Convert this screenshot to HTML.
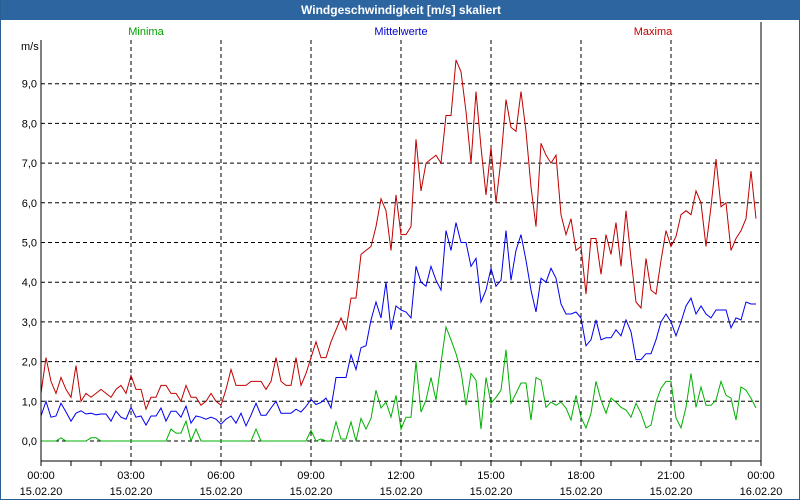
<!DOCTYPE html>
<html><head><meta charset="utf-8"><style>
body{margin:0;width:800px;height:500px;overflow:hidden;background:#fff;font-family:"Liberation Sans",sans-serif}
#wrap{position:relative;width:798px;height:499px;border-left:1px solid #2b5f94;border-right:1px solid #2b5f94;border-bottom:1px solid #2b5f94;box-sizing:border-box;width:800px;height:500px}
#title{position:absolute;left:0;top:0;width:800px;height:20px;background:#2c65a0;color:#fff;font-weight:bold;font-size:12px;text-align:center;line-height:20px}
svg{position:absolute;left:0;top:0}
text{font-family:"Liberation Sans",sans-serif;font-size:11px}
</style></head><body>
<div id="wrap">
<div id="title">Windgeschwindigkeit [m/s] skaliert</div>
<svg id="c" width="800" height="500"></svg>
</div>
<script>
const yTicks=[0,1,2,3,4,5,6,7,8,9];
const yTickLabels=["0,0","1,0","2,0","3,0","4,0","5,0","6,0","7,0","8,0","9,0"];
const xTickHours=[0,3,6,9,12,15,18,21,24];
const xTickTimes=["00:00","03:00","06:00","09:00","12:00","15:00","18:00","21:00","00:00"];
const xTickDates=["15.02.20","15.02.20","15.02.20","15.02.20","15.02.20","15.02.20","15.02.20","15.02.20","16.02.20"];
const maxima=[1.2,2.1,1.5,1.2,1.6,1.3,1.1,1.9,1.0,1.2,
1.1,1.2,1.3,1.2,1.1,1.3,1.4,1.2,1.65,1.3,
1.3,0.8,1.1,1.1,1.4,1.4,1.2,1.2,1.0,1.4,
1.1,1.1,0.9,1.0,1.2,1.0,0.9,1.3,1.8,1.4,
1.4,1.4,1.5,1.5,1.5,1.3,1.5,2.1,1.5,1.4,
1.4,2.1,1.4,1.7,2.1,2.5,2.1,2.1,2.5,2.8,
3.1,2.8,3.6,3.6,4.7,4.8,4.9,5.4,6.1,5.8,
4.8,6.2,5.2,5.2,5.4,7.6,6.3,7.0,7.1,7.2,
7.0,8.2,8.2,9.6,9.3,8.3,7.0,8.8,7.4,6.2,
7.4,6.0,7.1,8.6,7.9,7.8,8.8,7.8,6.4,5.4,
7.5,7.2,7.0,7.2,5.7,5.2,5.6,4.8,4.9,3.7,
5.1,5.1,4.2,5.2,4.7,5.5,4.4,5.8,4.6,3.5,
3.35,4.6,3.8,3.7,4.55,5.3,4.9,5.15,5.7,5.8,
5.7,6.3,6.0,4.9,5.9,7.1,5.9,6.0,4.8,5.1,
5.3,5.6,6.8,5.6];
const mittel=[0.63,1.0,0.6,0.63,0.95,0.73,0.5,0.7,0.76,0.68,
0.7,0.66,0.68,0.68,0.5,0.75,0.6,0.55,0.85,0.6,
0.63,0.4,0.63,0.63,0.83,0.5,0.75,0.75,0.6,0.88,
0.45,0.63,0.6,0.55,0.6,0.55,0.42,0.55,0.63,0.45,
0.7,0.38,0.65,0.95,0.65,0.65,0.83,1.0,0.7,0.7,
0.7,0.8,0.73,0.87,1.05,0.92,0.97,1.08,0.83,1.6,
1.6,1.6,2.17,1.8,2.35,2.4,3.05,3.5,3.1,4.0,
2.8,3.4,3.3,3.25,3.1,4.4,4.0,3.9,4.4,4.05,
3.8,5.3,4.8,5.5,5.0,5.0,4.4,4.6,3.5,3.8,
4.35,3.9,4.05,5.3,4.05,4.8,5.2,4.55,3.8,3.25,
4.1,4.0,4.35,4.1,3.45,3.2,3.2,3.25,3.1,2.4,
2.55,3.05,2.55,2.6,2.6,2.8,2.65,3.05,2.75,2.05,
2.05,2.2,2.2,2.55,3.0,3.2,3.0,2.65,3.0,3.4,
3.6,3.2,3.4,3.2,3.1,3.3,3.3,3.3,2.85,3.1,
3.05,3.5,3.45,3.45];
const minima=[0,0,0,0,0.08,0,0,0,0,0,
0.08,0.08,0,0,0,0,0,0,0,0,
0,0,0,0,0,0,0.3,0.2,0.2,0.5,
0,0.3,0,0,0,0,0,0,0,0,
0,0,0,0.3,0,0,0,0,0,0,
0,0,0,0,0.27,0,0.05,0,0,0.48,
0.05,0.05,0.48,0,0.57,0.3,0.57,1.28,0.83,0.98,
0.6,1.15,0.3,0.6,0.6,2.0,0.73,1.03,1.6,1.03,
1.97,2.87,2.55,2.2,1.75,0.9,1.7,1.53,0.3,1.6,
0.95,1.1,1.28,2.3,0.95,1.2,1.46,1.46,0.53,1.6,
1.53,0.85,0.98,0.9,0.98,0.83,0.53,1.15,0.6,0.33,
0.7,1.5,1.03,0.7,1.08,0.98,0.85,0.78,0.6,0.95,
0.7,0.33,0.4,0.98,1.33,1.5,1.5,0.58,0.33,0.85,
1.7,0.85,1.36,0.9,0.9,1.03,1.5,1.15,1.08,0.53,
1.36,1.28,1.08,0.83];
const STEP_MIN=10;
const X0=40,X1=760,Y0=441,PX_PER=39.7,TOP=40,BOT=461;
const xH=h=>X0+(X1-X0)*h/24;
const xI=i=>xH(i*STEP_MIN/60);
const yV=v=>Y0-v*PX_PER;
const svg=document.getElementById('c');
const NS='http://www.w3.org/2000/svg';
function mk(tag,attrs){const e=document.createElementNS(NS,tag);for(const k in attrs)e.setAttribute(k,attrs[k]);svg.appendChild(e);return e;}
// plot background
let bg=mk('rect',{x:X0,y:TOP,width:X1-X0,height:BOT-TOP,fill:'#fff'});


yTicks.forEach((v,i)=>{
  const g=mk('line',{x1:X0,x2:X1,y1:yV(v),y2:yV(v),stroke:'#000','stroke-dasharray':'4,3','stroke-width':1});
  
  
  const t=mk('text',{x:36,y:yV(v)+4,'text-anchor':'end',fill:'#000'});
  t.textContent=yTickLabels[i];
  
  
});
for(let h=0;h<=24;h++){
  const tk=mk('line',{x1:xH(h),x2:xH(h),y1:BOT,y2:BOT+5,stroke:'#000'});
  
  
}
xTickHours.forEach((h,i)=>{
  if(h>0&&h<24){
    const g=mk('line',{x1:xH(h),x2:xH(h),y1:TOP,y2:BOT,stroke:'#000','stroke-dasharray':'4,3'});
    
    
  }
  const t1=mk('text',{x:xH(h),y:479,'text-anchor':'middle',fill:'#000'});
  t1.textContent=xTickTimes[i];
  
  
  const t2=mk('text',{x:xH(h),y:495,'text-anchor':'middle',fill:'#000'});
  t2.textContent=xTickDates[i];
  
  
});
function series(arr,color,name){
  const p=mk('polyline',{points:arr.map((v,i)=>xI(i).toFixed(1)+','+yV(v).toFixed(1)).join(' '),fill:'none',stroke:color,'stroke-width':1});
  
  
}
series(minima,'#00b000','series-minima');
series(mittel,'#0000ee','series-mittelwerte');
series(maxima,'#c00000','series-maxima');
let a=mk('line',{x1:X0,x2:X0,y1:TOP,y2:BOT,stroke:'#000'});


a=mk('line',{x1:X0,x2:X1,y1:BOT,y2:BOT,stroke:'#000'});


a=mk('line',{x1:X1,x2:X1,y1:TOP-18,y2:BOT,stroke:'#000'});


let u=mk('text',{x:20,y:50,fill:'#000'});u.textContent='m/s';


[['Minima','#00a000',145,'legend-minima'],['Mittelwerte','#0000cc',400,'legend-mittelwerte'],['Maxima','#c00000',652,'legend-maxima']].forEach(l=>{
  const t=mk('text',{x:l[2],y:35,'text-anchor':'middle',fill:l[1]});t.textContent=l[0];
  
  
});
</script>
</body></html>
